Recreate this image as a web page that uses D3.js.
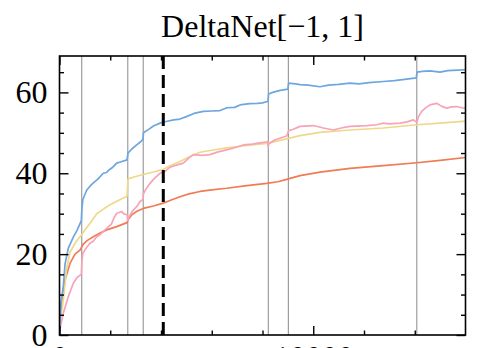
<!DOCTYPE html>
<html>
<head>
<meta charset="utf-8">
<script src="https://cdn.jsdelivr.net/npm/d3@7"></script>
<style>
  html, body { margin: 0; padding: 0; background: #fff; }
</style>
</head>
<body>
<div id="chart"></div>
<script>
// [step, accuracy]
const blueSeries = [
  [0, 1], [60, 8], [150, 12], [217, 17.5], [347, 21.5], [545, 24.2], [700, 26], [860, 28.3],
  [880, 31], [920, 33.5], [1070, 35.8], [1200, 36.8], [1333, 37.6], [1500, 38.5], [1726, 40],
  [1850, 40.2], [1990, 41], [2100, 41.5], [2254, 42.5], [2400, 42.8], [2660, 43.3],
  [2700, 45], [2850, 46], [3042, 47], [3200, 47.8], [3290, 48.4],
  [3310, 50], [3500, 50.8], [3700, 51.7], [3961, 52.4], [4200, 52.8], [4500, 53.2], [4749, 53.4],
  [5000, 54], [5300, 54.8], [5667, 55.3], [6000, 55.4], [6325, 55.5], [6600, 56.2], [6900, 56.3],
  [7113, 56.9], [7500, 57.2], [7800, 57.3], [8000, 57.4], [8220, 57.8],
  [8240, 59.6], [8400, 60], [8700, 60.5], [9000, 60.8],
  [9030, 62.3], [9300, 62.1], [9478, 61.9], [9800, 61.8], [10266, 61.4], [10600, 61.8], [11000, 62],
  [11448, 62.3], [11800, 62.1], [12200, 62.4], [12762, 62.7], [13200, 62.9], [13600, 63.2], [14060, 63.6],
  [14090, 65], [14300, 65.2], [14600, 65.3], [14995, 65], [15300, 65.4], [15700, 65.5], [16000, 65.6]
];

const yellowSeries = [
  [0, 2], [150, 8.7], [282, 16.5], [414, 20.5], [677, 23.3], [875, 24.8], [1000, 26], [1202, 27.6],
  [1466, 30], [1700, 31], [1990, 32.2], [2300, 33.2], [2660, 34.3],
  [2700, 38.6], [3000, 39.2], [3302, 39.7], [3700, 40.3], [4091, 41], [4400, 42], [4749, 42.9],
  [5100, 44], [5537, 45.2], [6000, 45.7], [6589, 46.3], [7300, 46.8], [8166, 47.4], [8600, 48],
  [8954, 48.5], [9478, 49.3], [10266, 50.1], [11448, 50.7], [12762, 51.2], [14077, 52], [15000, 52.4],
  [16000, 52.9]
];

const pinkSeries = [
  [0, 1], [150, 5.4], [347, 9.5], [545, 12.8], [700, 14.3], [860, 15],
  [880, 18], [920, 20.2], [1050, 21.5], [1202, 22.7], [1330, 23.2], [1466, 24.3], [1600, 24.8],
  [1860, 26.4], [2050, 27.5], [2150, 29], [2254, 30.1], [2350, 30.3], [2451, 30.5], [2550, 29.9], [2660, 29.8],
  [2690, 28.3], [2760, 29.5], [2908, 30.9], [3050, 31.8], [3173, 33], [3290, 33.5],
  [3310, 35], [3450, 36.5], [3567, 37.5], [3750, 38.8], [3961, 40], [4150, 40.4], [4355, 41.5],
  [4600, 42], [4880, 42.5], [5100, 43.8], [5273, 44.6], [5600, 44.4], [5931, 44.6], [6250, 45.3],
  [6589, 45.8], [6900, 46.3], [7244, 47], [7600, 47.2], [7900, 47.5], [8200, 47.8],
  [8225, 46.5], [8250, 47.3], [8500, 48.3], [8954, 49.2], [9030, 50.5], [9215, 50.9], [9478, 51.6],
  [10003, 51.8], [10400, 51.2], [10791, 50.7], [11100, 51.2], [11448, 51.6], [12106, 51.8], [12500, 52],
  [12762, 52.4], [13000, 52.2], [13419, 52.4], [13700, 52.7], [13943, 53.2], [14077, 52.6],
  [14150, 54], [14274, 55.3], [14450, 56.3], [14601, 56.9], [14866, 57.3], [15050, 56.6], [15260, 56.1],
  [15450, 56.4], [15654, 56.5], [15850, 56.2], [16000, 56.1]
];

const orangeSeries = [
  [0, 2], [87, 8.7], [217, 13.6], [414, 17.7], [611, 20], [808, 21], [938, 22.5], [1100, 23.4],
  [1333, 24.3], [1600, 25.2], [1860, 26], [2254, 26.8], [2660, 27.8],
  [2700, 28.5], [2845, 29.7], [3050, 30.6], [3302, 31.3], [3700, 31.9], [4091, 32.6], [4400, 33.4],
  [4749, 34.2], [5100, 34.9], [5537, 35.5], [6000, 35.9], [6589, 36.3], [7300, 36.9], [8166, 37.5],
  [8600, 37.9], [8954, 38.5], [9478, 39.4], [10266, 40.3], [11448, 41.2], [12762, 41.9], [14077, 42.6],
  [15000, 43.2], [16000, 43.9]
];

const boundaries = [875, 2690, 3300, 8230, 9020, 14080];
const dashedStep = 4090;

const yMajor = [0, 20, 40, 60];
const yMinor = d3.range(5, 70, 5).filter((v) => v % 20 !== 0);
const xMajor = [0, 10000];
const xMinor = [2000, 4000, 6000, 8000, 12000, 14000];

const width = 479;
const height = 348;
const margin = { top: 56, right: 13.5, bottom: 13, left: 59.5 };
const font = '"Liberation Serif", "Times New Roman", serif';

const svg = d3
  .select('#chart')
  .append('svg')
  .attr('width', width)
  .attr('height', height)
  .style('display', 'block');

const x = d3.scaleLinear().domain([0, 16000]).range([margin.left, width - margin.right]);
const y = d3.scaleLinear().domain([0, 69]).range([height - margin.bottom, margin.top]);

const plotTop = y.range()[1];
const plotBottom = y.range()[0];

const clip = svg.append('clipPath').attr('id', 'plot-clip')
  .append('rect')
  .attr('x', x.range()[0])
  .attr('y', plotTop)
  .attr('width', x.range()[1] - x.range()[0])
  .attr('height', plotBottom - plotTop);

// grey task boundaries
svg.append('g')
  .selectAll('line')
  .data(boundaries)
  .join('line')
  .attr('x1', (d) => x(d))
  .attr('x2', (d) => x(d))
  .attr('y1', plotTop)
  .attr('y2', plotBottom)
  .attr('stroke', '#9d9d9d')
  .attr('stroke-width', 1.2);

const line = d3.line().x((d) => x(d[0])).y((d) => y(d[1]));

const series = [
  { data: orangeSeries, color: '#f07b55' },
  { data: yellowSeries, color: '#eed98a' },
  { data: pinkSeries, color: '#f8a3b7' },
  { data: blueSeries, color: '#6ea6df' }
];

svg.append('g')
  .attr('clip-path', 'url(#plot-clip)')
  .selectAll('path')
  .data(series)
  .join('path')
  .attr('d', (d) => line(d.data))
  .attr('fill', 'none')
  .attr('stroke', (d) => d.color)
  .attr('stroke-width', 1.7)
  .attr('stroke-linejoin', 'round');

svg.append('line')
  .attr('x1', x(dashedStep))
  .attr('x2', x(dashedStep))
  .attr('y1', plotTop)
  .attr('y2', plotBottom)
  .attr('stroke', '#000')
  .attr('stroke-width', 3)
  .attr('stroke-dasharray', '13,6');

// axes with inward ticks on all four sides
function styleAxis(g) {
  g.select('.domain').remove();
  g.selectAll('line').attr('stroke', '#000').attr('stroke-width', 1.4);
  g.selectAll('text').attr('font-family', font).attr('font-size', 32).attr('fill', '#000');
}

svg.append('g')
  .attr('transform', `translate(${x.range()[0]},0)`)
  .call(d3.axisLeft(y).tickValues(yMajor).tickSizeInner(-9).tickSizeOuter(0).tickPadding(12))
  .call(styleAxis);

svg.append('g')
  .attr('transform', `translate(${x.range()[0]},0)`)
  .call(d3.axisLeft(y).tickValues(yMinor).tickSizeInner(-4.5).tickSizeOuter(0).tickFormat(''))
  .call(styleAxis);

svg.append('g')
  .attr('transform', `translate(${x.range()[1]},0)`)
  .call(d3.axisRight(y).tickValues(yMajor).tickSizeInner(-9).tickSizeOuter(0).tickFormat(''))
  .call(styleAxis);

svg.append('g')
  .attr('transform', `translate(${x.range()[1]},0)`)
  .call(d3.axisRight(y).tickValues(yMinor).tickSizeInner(-4.5).tickSizeOuter(0).tickFormat(''))
  .call(styleAxis);

svg.append('g')
  .attr('transform', `translate(0,${plotBottom})`)
  .call(d3.axisBottom(x).tickValues(xMajor).tickSizeInner(-9).tickSizeOuter(0).tickPadding(10).tickFormat(d3.format('d')))
  .call(styleAxis);

svg.append('g')
  .attr('transform', `translate(0,${plotBottom})`)
  .call(d3.axisBottom(x).tickValues(xMinor).tickSizeInner(-4.5).tickSizeOuter(0).tickFormat(''))
  .call(styleAxis);

svg.append('g')
  .attr('transform', `translate(0,${plotTop})`)
  .call(d3.axisTop(x).tickValues(xMajor).tickSizeInner(-9).tickSizeOuter(0).tickFormat(''))
  .call(styleAxis);

svg.append('g')
  .attr('transform', `translate(0,${plotTop})`)
  .call(d3.axisTop(x).tickValues(xMinor).tickSizeInner(-4.5).tickSizeOuter(0).tickFormat(''))
  .call(styleAxis);

svg.append('rect')
  .attr('x', x.range()[0])
  .attr('y', plotTop)
  .attr('width', x.range()[1] - x.range()[0])
  .attr('height', plotBottom - plotTop)
  .attr('fill', 'none')
  .attr('stroke', '#000')
  .attr('stroke-width', 1.6);

svg.append('text')
  .attr('x', (x.range()[0] + x.range()[1]) / 2)
  .attr('y', 37)
  .attr('text-anchor', 'middle')
  .attr('font-family', font)
  .attr('font-size', 32)
  .text('DeltaNet[\u22121, 1]');
</script>
</body>
</html>
